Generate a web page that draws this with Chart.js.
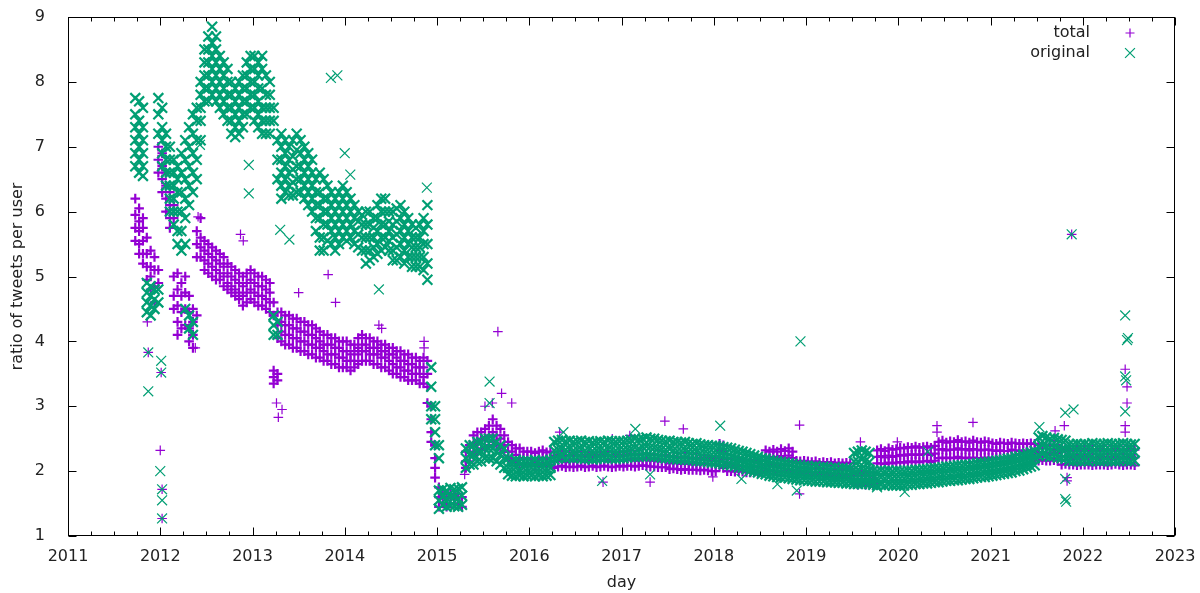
<!DOCTYPE html>
<html>
<head>
<meta charset="utf-8">
<title>ratio of tweets per user</title>
<script src="https://cdn.jsdelivr.net/npm/chart.js@4.4.1/dist/chart.umd.min.js"></script>
<style>
  html, body { margin: 0; padding: 0; background: #fff; }
  #wrap { width: 1200px; height: 593px; position: relative; }
</style>
</head>
<body>
<div id="wrap"><canvas id="ratioChart"></canvas></div>
<script>
// half-month samples: each entry lists the values seen in that half month
const STEPS_PER_YEAR = 24;
const xTickYears = [2011, 2012, 2013, 2014, 2015, 2016, 2017, 2018, 2019, 2020, 2021, 2022, 2023];
const yTickValues = [1, 2, 3, 4, 5, 6, 7, 8, 9];

// ---- total (first sample = half month 17 of 2011) ----
const total2011 = [
  [6.2,5.95,5.75,5.55],[6.05,5.85,5.7,5.5,5.35],[5.9,5.75,5.55,5.35,5.2],[5.6,5.35,5.15,4.95],
  [5.4,5.15,5.0,4.8],[5.3,5.1,4.85,4.6],[7.0,6.8,6.6,5.1,4.9]
];
const total2012 = [
  [6.9,6.7,6.5,6.3],[6.6,6.4,6.2,6.0],[6.3,6.1,5.9,5.75],[6.1,5.9,5.0,4.7,4.5],
  [5.05,4.8,4.55,4.3,4.1],[4.9,4.7,4.45,4.2],[5.0,4.75,4.5,4.25],[4.7,4.45,4.2,4.0],
  [4.5,4.3,4.1,3.9],[5.7,5.5,5.3,4.4],[5.9,5.6,5.45,5.3],[5.55,5.4,5.25,5.1],
  [5.5,5.35,5.2,5.05],[5.45,5.3,5.15,5.0],[5.4,5.25,5.1,4.95],[5.35,5.2,5.05,4.95],
  [5.3,5.15,5.0,4.85],[5.2,5.05,4.9,4.8],[5.15,5.0,4.85,4.75],[5.1,4.95,4.8,4.7],
  [5.05,4.9,4.75,4.65],[5.0,4.85,4.7,4.55],[5.05,4.9,4.75,4.6],[5.1,4.95,4.8,4.65]
];
const total2013 = [
  [5.05,4.9,4.75,4.6],[5.0,4.85,4.7,4.55],[5.0,4.85,4.7,4.55],[4.95,4.8,4.65,4.5],
  [4.9,4.75,4.6,4.45],[4.6,4.4,3.55,3.45,3.35],[4.45,4.25,4.05,3.5,3.4],[4.45,4.3,4.15,4.0],
  [4.4,4.25,4.1,3.95],[4.4,4.25,4.1,3.95],[4.35,4.2,4.05,3.9],[4.35,4.2,4.05,3.9],
  [4.3,4.15,4.0,3.85],[4.3,4.15,4.0,3.85],[4.25,4.1,3.95,3.8],[4.25,4.1,3.95,3.8],
  [4.2,4.05,3.9,3.75],[4.15,4.0,3.9,3.75],[4.1,3.95,3.85,3.7],[4.1,3.95,3.8,3.7],
  [4.05,3.95,3.8,3.65],[4.05,3.9,3.8,3.65],[4.0,3.9,3.75,3.6],[4.0,3.85,3.75,3.6]
];
const total2014 = [
  [4.0,3.85,3.7,3.6],[3.95,3.8,3.7,3.55],[3.95,3.85,3.7,3.6],[4.05,3.9,3.8,3.65],
  [4.1,3.95,3.85,3.7],[4.05,3.95,3.85,3.7],[4.05,3.9,3.8,3.7],[4.0,3.9,3.8,3.65],
  [4.0,3.9,3.8,3.65],[3.95,3.85,3.75,3.6],[3.95,3.85,3.75,3.6],[3.9,3.8,3.7,3.55],
  [3.9,3.8,3.65,3.5],[3.85,3.75,3.6,3.5],[3.85,3.7,3.6,3.45],[3.8,3.7,3.55,3.45],
  [3.8,3.65,3.55,3.4],[3.75,3.65,3.5,3.4],[3.75,3.6,3.5,3.4],[3.7,3.6,3.5,3.35],
  [3.75,3.6,3.45,3.35],[3.7,3.5,3.3,3.05],[3.0,2.8,2.6,2.45],[2.4,2.2,2.05,1.9]
];
const total2015 = [
  [1.75,1.6,1.45],[1.65,1.5],[1.6,1.45],[1.65,1.5],[1.6,1.5],[1.65,1.5],[1.6,1.45],[2.3,2.15,2.05],
  [2.4,2.3,2.15],[2.55,2.4,2.25],[2.6,2.45,2.3],[2.6,2.5,2.35],[2.65,2.5,2.35],[2.7,2.55,2.4],
  [2.8,2.6,2.45],[2.7,2.55,2.4],[2.65,2.5,2.35],[2.55,2.4,2.3],[2.45,2.3,2.2],[2.4,2.3,2.15],
  [2.35,2.25,2.15],[2.35,2.2,2.1],[2.3,2.2,2.1],[2.3,2.2,2.1]
];
const total2016 = [
  [2.3,2.2,2.1],[2.28,2.18,2.08],[2.3,2.2,2.1],[2.32,2.21,2.1],[2.29,2.19,2.09],[2.3,2.2,2.1],
  [2.24,2.15,2.05],[2.25,2.15,2.07],[2.27,2.17,2.08],[2.24,2.14,2.06],[2.25,2.16,2.07],[2.26,2.15,2.06],
  [2.24,2.15,2.07],[2.25,2.16,2.08],[2.23,2.14,2.06],[2.25,2.15,2.07],[2.26,2.16,2.08],[2.24,2.15,2.06],
  [2.25,2.16,2.07],[2.26,2.17,2.08],[2.25,2.15,2.07],[2.24,2.15,2.06],[2.26,2.16,2.07],[2.25,2.16,2.08]
];
const total2017 = [
  [2.25,2.16,2.07],[2.26,2.17,2.08],[2.27,2.17,2.08],[2.25,2.16,2.07],[2.26,2.16,2.08],[2.27,2.18,2.09],
  [2.26,2.17,2.08],[2.25,2.16,2.07],[2.26,2.16,2.07],[2.25,2.15,2.06],[2.24,2.15,2.06],[2.25,2.15,2.06],
  [2.22,2.12,2.03],[2.23,2.13,2.04],[2.22,2.12,2.03],[2.21,2.11,2.02],[2.22,2.12,2.03],[2.21,2.11,2.02],
  [2.2,2.1,2.02],[2.21,2.11,2.02],[2.2,2.1,2.01],[2.21,2.11,2.02],[2.2,2.1,2.01],[2.2,2.1,2.0]
];
const total2018 = [
  [2.2,2.1,2.0],[2.42,2.32,2.2,2.08],[2.4,2.3,2.18,2.05],[2.2,2.1,2.0],[2.18,2.08,2.0],[2.17,2.08,1.99],
  [2.18,2.08,2.0],[2.16,2.07,1.99],[2.17,2.07,1.98],[2.16,2.06,1.98],[2.17,2.07,1.99],[2.15,2.06,1.98],
  [2.16,2.06,1.97],[2.32,2.22,2.1,2.0],[2.3,2.2,2.1,2.0],[2.33,2.22,2.1,2.0],[2.3,2.2,2.08,1.98],[2.34,2.23,2.1,2.0],
  [2.31,2.2,2.09,1.99],[2.35,2.24,2.1,2.0],[2.3,2.2,2.08,1.98],[2.16,2.06,1.97],[2.15,2.05,1.96],[2.16,2.06,1.97]
];
const total2019 = [
  [2.15,2.05,1.95],[2.14,2.04,1.95],[2.15,2.05,1.96],[2.13,2.04,1.94],[2.14,2.04,1.95],[2.13,2.03,1.94],
  [2.14,2.04,1.94],[2.12,2.03,1.93],[2.13,2.03,1.94],[2.12,2.02,1.93],[2.13,2.03,1.93],[2.12,2.02,1.93],
  [1.98,1.88,1.8],[1.97,1.87,1.79],[1.98,1.88,1.8],[1.97,1.88,1.79],[1.98,1.88,1.8],[1.98,1.89,1.8],
  [2.32,2.22,2.12],[2.34,2.23,2.12],[2.31,2.21,2.11],[2.35,2.24,2.13],[2.33,2.22,2.12],[2.34,2.23,2.13]
];
const total2020 = [
  [2.36,2.25,2.14],[2.35,2.24,2.13],[2.37,2.26,2.15],[2.36,2.25,2.14],[2.38,2.26,2.15],[2.36,2.25,2.14],
  [2.37,2.26,2.15],[2.38,2.27,2.16],[2.36,2.25,2.14],[2.39,2.27,2.16],[2.45,2.33,2.2],[2.47,2.34,2.21],
  [2.44,2.32,2.2],[2.46,2.33,2.21],[2.45,2.33,2.2],[2.48,2.35,2.22],[2.45,2.33,2.2],[2.46,2.34,2.21],
  [2.44,2.32,2.2],[2.47,2.34,2.21],[2.45,2.33,2.2],[2.44,2.32,2.2],[2.46,2.33,2.21],[2.45,2.33,2.2]
];
const total2021 = [
  [2.43,2.32,2.21],[2.42,2.31,2.2],[2.44,2.32,2.21],[2.43,2.31,2.2],[2.42,2.31,2.2],[2.44,2.33,2.21],
  [2.43,2.32,2.2],[2.42,2.31,2.2],[2.43,2.32,2.21],[2.42,2.31,2.2],[2.43,2.32,2.21],[2.42,2.31,2.2],
  [2.4,2.28,2.16],[2.41,2.29,2.17],[2.39,2.28,2.16],[2.4,2.28,2.16],[2.41,2.29,2.17],[2.4,2.28,2.16],
  [2.34,2.22,2.1],[2.35,2.23,2.11],[2.33,2.22,2.1],[2.34,2.22,2.1],[2.33,2.21,2.09],[2.34,2.22,2.1]
];
const total2022 = [
  [2.33,2.22,2.1],[2.34,2.22,2.1],[2.33,2.21,2.09],[2.32,2.21,2.1],[2.34,2.22,2.1],[2.33,2.22,2.1],
  [2.32,2.21,2.09],[2.33,2.22,2.1],[2.34,2.22,2.11],[2.33,2.21,2.1],[2.32,2.21,2.09],[2.33,2.22,2.1],
  [2.34,2.22,2.1],[2.33,2.21,2.09]
];
const totalOutliers = [
  [2011.87,3.83],[2011.86,4.3],[2012.01,3.52],[2012.0,2.32],[2012.02,1.72],[2012.02,1.27],
  [2012.38,3.9],[2012.41,5.92],[2012.87,5.65],[2012.9,5.55],[2013.5,4.75],[2013.9,4.6],
  [2013.82,5.03],[2013.26,3.05],[2013.28,2.83],[2013.32,2.95],[2014.37,4.25],[2014.4,4.2],
  [2014.86,4.0],[2014.86,3.9],[2015.3,1.95],[2015.52,3.0],[2015.6,3.05],[2015.66,4.15],
  [2015.7,3.2],[2015.81,3.05],[2016.33,2.6],[2016.8,1.83],[2016.9,2.5],[2017.09,2.55],
  [2017.31,1.83],[2017.47,2.77],[2017.67,2.65],[2017.99,1.91],[2018.93,2.71],[2018.93,1.65],
  [2019.59,2.45],[2019.99,2.45],[2020.42,2.7],[2020.42,2.6],[2020.81,2.75],[2021.7,2.62],
  [2021.8,2.7],[2021.83,1.9],[2021.83,1.85],[2021.88,5.65],[2022.46,3.57],[2022.48,3.3],
  [2022.48,3.05],[2022.46,2.7],[2022.46,2.6]
];

// ---- original ----
const orig2011 = [
  [7.75,7.5,7.3,7.1,6.9,6.7],[7.7,7.4,7.2,7.0,6.8,6.6],[7.6,7.3,7.1,6.9,6.7,6.55],[4.9,4.75,4.6,4.45],
  [4.85,4.7,4.55,4.4],[4.8,4.65,4.5],[7.75,7.5,7.2,4.8,4.6]
];
const orig2012 = [
  [7.6,7.3,7.1,6.9,6.7],[7.2,7.0,6.8,6.6,6.4],[7.0,6.8,6.6,6.4,6.2,6.0],[6.8,6.6,6.4,6.2,6.0,5.8],
  [6.7,6.5,6.3,6.0,5.7,5.5],[6.9,6.6,6.3,6.0,5.7,5.4],[7.1,6.8,6.5,6.2,5.9,5.5,4.5],[7.3,7.0,6.7,6.4,6.1,4.4,4.2],
  [7.5,7.2,6.9,6.6,6.3,4.3,4.1],[7.6,7.4,7.1,6.8,6.5],[8.0,7.8,7.6,7.4,7.1],[8.5,8.3,8.1,7.9,7.7],
  [8.7,8.5,8.3,8.1,7.9,7.7],[8.85,8.6,8.4,8.2,8.0,7.8],[8.7,8.5,8.3,8.1,7.9,7.7],[8.4,8.2,8.0,7.8,7.6],
  [8.3,8.1,7.9,7.7,7.5],[8.2,8.0,7.8,7.6,7.4],[8.0,7.8,7.6,7.4,7.2],[7.9,7.7,7.5,7.3,7.15],
  [8.0,7.8,7.6,7.4,7.2],[8.1,7.9,7.7,7.5,7.3],[8.3,8.1,7.9,7.7,7.5],[8.4,8.2,8.0,7.8,7.6]
];
const orig2013 = [
  [8.4,8.2,8.0,7.8,7.6,7.4],[8.3,8.1,7.9,7.7,7.5,7.3],[8.4,8.2,7.9,7.6,7.4,7.2],[8.1,7.8,7.6,7.4,7.2],
  [8.0,7.8,7.6,7.4,7.2],[7.6,7.4,4.4,4.25,4.1],[7.1,6.8,6.5,4.3,4.1],[7.2,7.0,6.8,6.6,6.4,6.2],
  [7.1,6.9,6.7,6.5,6.3],[7.0,6.8,6.6,6.4,6.25],[7.1,6.85,6.65,6.45,6.25],[7.2,6.95,6.7,6.5,6.3],
  [7.1,6.9,6.7,6.5,6.3],[7.0,6.8,6.6,6.4,6.2],[6.9,6.7,6.5,6.3,6.1],[6.8,6.6,6.4,6.2,6.0],
  [6.5,6.3,6.1,5.9,5.7],[6.6,6.3,6.1,5.9,5.6,5.4],[6.5,6.2,6.0,5.8,5.6,5.4],[6.4,6.2,6.0,5.8,5.55],
  [6.3,6.1,5.9,5.7,5.5],[6.2,6.0,5.8,5.6,5.4],[6.3,6.1,5.9,5.7,5.5],[6.4,6.2,6.0,5.8,5.6]
];
const orig2014 = [
  [6.3,6.1,5.9,5.7,5.55],[6.2,6.0,5.8,5.6],[6.1,5.9,5.7,5.5],[6.0,5.85,5.65,5.45],
  [5.95,5.8,5.6,5.4],[6.0,5.8,5.6,5.4,5.2],[6.0,5.8,5.6,5.4,5.25],[5.9,5.75,5.6,5.45,5.3],
  [6.1,5.9,5.7,5.5,5.35],[6.2,6.0,5.8,5.6,5.4],[6.2,6.0,5.8,5.6,5.45],[6.0,5.85,5.7,5.55,5.4],
  [6.0,5.8,5.6,5.4,5.25],[6.05,5.85,5.65,5.45,5.25],[6.1,5.9,5.7,5.5,5.3],[6.0,5.8,5.6,5.4,5.2],
  [5.9,5.7,5.5,5.3],[5.8,5.6,5.45,5.3,5.15],[5.75,5.6,5.45,5.3,5.15],[5.8,5.6,5.45,5.3,5.15],
  [5.9,5.7,5.5,5.3,5.1],[6.1,5.8,5.5,5.2,4.95],[3.6,3.3,3.0,2.8],[3.0,2.8,2.6,2.4]
];
const orig2015 = [
  [2.4,2.2,1.7,1.55,1.42],[1.72,1.6,1.48],[1.7,1.58,1.45],[1.74,1.6,1.47],[1.72,1.6,1.46],[1.73,1.58,1.45],
  [1.75,1.62,1.48],[2.35,2.2,2.05],[2.4,2.25,2.1],[2.4,2.25,2.1],[2.45,2.3,2.15],[2.45,2.3,2.15],
  [2.5,2.35,2.2],[2.5,2.35,2.2],[2.5,2.35,2.2],[2.45,2.3,2.15],[2.4,2.25,2.1],[2.35,2.2,2.05],
  [2.2,2.05,1.95],[2.15,2.05,1.93],[2.17,2.05,1.92],[2.15,2.03,1.93],[2.15,2.05,1.92],[2.16,2.04,1.93]
];
const orig2016 = [
  [2.15,2.05,1.93],[2.17,2.05,1.92],[2.15,2.04,1.93],[2.16,2.05,1.92],[2.15,2.04,1.93],[2.17,2.05,1.94],
  [2.45,2.32,2.18],[2.47,2.33,2.2],[2.48,2.35,2.22],[2.46,2.33,2.2],[2.47,2.34,2.21],[2.45,2.32,2.2],
  [2.46,2.33,2.21],[2.47,2.34,2.2],[2.45,2.32,2.19],[2.46,2.33,2.2],[2.44,2.31,2.18],[2.45,2.32,2.19],
  [2.46,2.33,2.2],[2.45,2.32,2.2],[2.47,2.34,2.21],[2.46,2.33,2.2],[2.45,2.32,2.19],[2.46,2.33,2.2]
];
const orig2017 = [
  [2.46,2.33,2.2],[2.47,2.34,2.21],[2.48,2.35,2.22],[2.5,2.36,2.22],[2.49,2.35,2.22],[2.5,2.37,2.23],
  [2.52,2.38,2.24],[2.5,2.37,2.23],[2.5,2.36,2.22],[2.48,2.35,2.22],[2.47,2.34,2.21],[2.46,2.33,2.2],
  [2.47,2.34,2.2],[2.45,2.32,2.19],[2.45,2.31,2.18],[2.44,2.31,2.18],[2.45,2.32,2.18],[2.43,2.3,2.17],
  [2.42,2.3,2.17],[2.43,2.3,2.16],[2.41,2.28,2.15],[2.4,2.28,2.15],[2.4,2.27,2.14],[2.39,2.26,2.13]
];
const orig2018 = [
  [2.39,2.26,2.13],[2.38,2.25,2.12],[2.37,2.24,2.11],[2.36,2.23,2.1],[2.35,2.22,2.09],[2.33,2.2,2.08],
  [2.31,2.18,2.06],[2.3,2.17,2.05],[2.28,2.15,2.03],[2.26,2.13,2.01],[2.24,2.11,1.99],[2.22,2.1,1.98],
  [2.2,2.08,1.96],[2.19,2.07,1.95],[2.17,2.05,1.93],[2.16,2.04,1.92],[2.15,2.03,1.91],[2.14,2.02,1.9],
  [2.13,2.01,1.9],[2.12,2.0,1.89],[2.11,1.99,1.88],[2.1,1.98,1.87],[2.09,1.97,1.86],[2.08,1.97,1.86]
];
const orig2019 = [
  [2.08,1.96,1.85],[2.07,1.96,1.85],[2.08,1.95,1.84],[2.06,1.95,1.84],[2.07,1.95,1.84],[2.06,1.94,1.83],
  [2.05,1.94,1.83],[2.06,1.93,1.83],[2.04,1.93,1.82],[2.05,1.93,1.82],[2.04,1.92,1.81],[2.03,1.92,1.81],
  [2.28,2.15,2.02,1.9,1.8],[2.3,2.15,2.02,1.9,1.8],[2.32,2.18,2.04,1.9,1.8],[2.3,2.16,2.03,1.91,1.81],
  [2.28,2.14,2.02,1.9,1.8],[2.01,1.9,1.79],[2.0,1.89,1.78],[2.01,1.9,1.79],[2.0,1.89,1.78],[2.01,1.9,1.79],
  [2.0,1.89,1.78],[2.01,1.89,1.78]
];
const orig2020 = [
  [2.0,1.89,1.78],[2.0,1.89,1.78],[2.01,1.9,1.79],[2.01,1.9,1.79],[2.02,1.91,1.8],[2.02,1.91,1.8],
  [2.03,1.92,1.81],[2.03,1.92,1.81],[2.04,1.93,1.82],[2.05,1.94,1.83],[2.05,1.94,1.83],[2.06,1.95,1.84],
  [2.07,1.96,1.85],[2.07,1.96,1.85],[2.08,1.97,1.86],[2.09,1.97,1.86],[2.09,1.98,1.87],[2.1,1.99,1.88],
  [2.1,1.99,1.88],[2.11,2.0,1.89],[2.12,2.01,1.9],[2.13,2.02,1.91],[2.13,2.02,1.91],[2.14,2.03,1.92]
];
const orig2021 = [
  [2.15,2.04,1.93],[2.16,2.05,1.94],[2.17,2.06,1.95],[2.18,2.07,1.96],[2.19,2.08,1.97],[2.2,2.09,1.98],
  [2.22,2.11,2.0],[2.23,2.12,2.01],[2.25,2.14,2.03],[2.27,2.16,2.05],[2.29,2.18,2.07],[2.31,2.2,2.09],
  [2.52,2.38,2.24],[2.54,2.4,2.26],[2.52,2.38,2.24],[2.5,2.36,2.22],[2.51,2.37,2.23],[2.49,2.35,2.21],
  [2.48,2.34,2.2],[2.47,2.33,2.19],[2.42,2.29,2.16],[2.41,2.28,2.15],[2.42,2.29,2.16],[2.41,2.28,2.15]
];
const orig2022 = [
  [2.42,2.29,2.16],[2.41,2.28,2.15],[2.43,2.3,2.17],[2.42,2.29,2.16],[2.41,2.28,2.15],[2.42,2.29,2.16],
  [2.43,2.3,2.16],[2.42,2.29,2.15],[2.41,2.28,2.15],[2.42,2.29,2.16],[2.43,2.3,2.17],[2.42,2.29,2.16],
  [2.41,2.28,2.15],[2.42,2.29,2.16]
];
const origOutliers = [
  [2011.87,3.23],[2012.01,3.7],[2012.0,2.0],[2012.02,1.55],[2012.02,1.27],[2012.01,3.52],
  [2011.87,3.83],[2012.02,1.72],[2012.43,7.03],[2012.96,6.72],[2012.96,6.28],[2013.3,5.72],
  [2013.4,5.57],[2013.85,8.06],[2013.92,8.1],[2014.0,6.9],[2014.06,6.57],[2014.37,4.8],
  [2014.89,6.37],[2015.57,3.38],[2015.57,3.05],[2016.37,2.6],[2016.79,1.85],[2017.15,2.65],
  [2017.31,1.95],[2018.07,2.7],[2018.3,1.88],[2018.69,1.8],[2018.9,1.7],[2018.94,4.0],
  [2019.77,1.75],[2020.07,1.68],[2020.32,2.3],[2021.53,2.68],[2021.81,2.9],[2021.9,2.95],
  [2021.81,1.57],[2021.82,1.53],[2021.81,1.88],[2021.88,5.65],[2022.46,4.4],[2022.48,4.02],
  [2022.49,4.05],[2022.46,3.46],[2022.47,3.4],[2022.46,2.92]
];

// [year, first half-month index, samples]
const totalYears = [
  [2011, 17, total2011], [2012, 0, total2012], [2013, 0, total2013], [2014, 0, total2014],
  [2015, 0, total2015], [2016, 0, total2016], [2017, 0, total2017], [2018, 0, total2018],
  [2019, 0, total2019], [2020, 0, total2020], [2021, 0, total2021], [2022, 0, total2022]
];
const origYears = [
  [2011, 17, orig2011], [2012, 0, orig2012], [2013, 0, orig2013], [2014, 0, orig2014],
  [2015, 0, orig2015], [2016, 0, orig2016], [2017, 0, orig2017], [2018, 0, orig2018],
  [2019, 0, orig2019], [2020, 0, orig2020], [2021, 0, orig2021], [2022, 0, orig2022]
];

const PURPLE = "#9400d3";
const GREEN = "#009e73";
const TEXT = "#222222";
const FONT = "'DejaVu Sans', sans-serif";

function buildPoints(years, outliers) {
  const pts = [];
  years.forEach(([year, first, samples]) => {
    samples.forEach((vals, i) => {
      const x = year + (first + i + 0.5) / STEPS_PER_YEAR;
      vals.forEach((v) => pts.push({ x, y: v }));
    });
  });
  outliers.forEach(([x, y]) => pts.push({ x, y, lone: true }));
  return pts;
}

// dense clouds get a heavier stroke, isolated days a thin one
const markerWidth = (dense, lone) => (ctx) => (ctx.raw && ctx.raw.lone ? lone : dense);

function drawMarker(ctx, style, x, y, r) {
  ctx.beginPath();
  if (style === "cross") {
    ctx.moveTo(x - r, y); ctx.lineTo(x + r, y);
    ctx.moveTo(x, y - r); ctx.lineTo(x, y + r);
  } else {
    const d = r * Math.SQRT1_2;
    ctx.moveTo(x - d, y - d); ctx.lineTo(x + d, y + d);
    ctx.moveTo(x - d, y + d); ctx.lineTo(x + d, y - d);
  }
  ctx.stroke();
}

// gnuplot style frame, inward ticks and key
const framePlugin = {
  id: "frame",
  afterDraw(chart) {
    const { ctx, chartArea: a, scales } = chart;
    const L = Math.round(a.left) + 0.5, R = Math.round(a.right) - 0.5;
    const T = Math.round(a.top) + 0.5, B = Math.round(a.bottom) - 0.5;
    ctx.save();
    ctx.strokeStyle = "#000";
    ctx.lineWidth = 1;
    ctx.strokeRect(L, T, R - L, B - T);
    ctx.beginPath();
    for (let q = 0; q <= (xTickYears.length - 1) * 4; q++) {
      const yr = xTickYears[0] + q / 4;
      const px = Math.round(scales.x.getPixelForValue(yr)) + 0.5;
      const len = q % 4 === 0 ? 8 : 4;
      ctx.moveTo(px, B); ctx.lineTo(px, B - len);
      ctx.moveTo(px, T); ctx.lineTo(px, T + len);
    }
    yTickValues.forEach((v) => {
      const py = Math.round(scales.y.getPixelForValue(v)) + 0.5;
      ctx.moveTo(L, py); ctx.lineTo(L + 8, py);
      ctx.moveTo(R, py); ctx.lineTo(R - 8, py);
    });
    ctx.stroke();

    // key
    ctx.font = "16px " + FONT;
    ctx.fillStyle = TEXT;
    ctx.textAlign = "right";
    ctx.textBaseline = "middle";
    ctx.lineWidth = 1.2;
    const keys = [["total", PURPLE, "cross", 4.5], ["original", GREEN, "crossRot", 7]];
    keys.forEach(([label, color, style, r], k) => {
      const ky = 33 + k * 20;
      ctx.fillText(label, 1090, ky);
      ctx.strokeStyle = color;
      drawMarker(ctx, style, 1130, ky, r);
    });
    ctx.restore();
  },
};

new Chart(document.getElementById("ratioChart"), {
  type: "scatter",
  data: {
    datasets: [
      {
        label: "original",
        data: buildPoints(origYears, origOutliers),
        pointStyle: "crossRot",
        pointRadius: 7,
        borderColor: GREEN,
        backgroundColor: GREEN,
        borderWidth: markerWidth(2.2, 1.2),
        order: 0,
      },
      {
        label: "total",
        data: buildPoints(totalYears, totalOutliers),
        pointStyle: "cross",
        pointRadius: 4.8,
        borderColor: PURPLE,
        backgroundColor: PURPLE,
        borderWidth: markerWidth(2.2, 1.2),
        order: 1,
      },
    ],
  },
  options: {
    responsive: true,
    maintainAspectRatio: false,
    animation: false,
    events: [],
    layout: { padding: { top: 17, right: 25, left: 0, bottom: 0 } },
    plugins: { legend: { display: false }, tooltip: { enabled: false } },
    scales: {
      x: {
        type: "linear",
        min: 2011,
        max: 2023,
        grid: { display: false },
        border: { display: false },
        ticks: {
          stepSize: 1,
          autoSkip: false,
          maxRotation: 0,
          padding: 3,
          color: TEXT,
          font: { family: FONT, size: 16 },
          callback: (v) => String(v),
        },
        title: {
          display: true,
          text: "day",
          color: TEXT,
          font: { family: FONT, size: 16 },
          padding: { top: 0, bottom: 1 },
        },
        afterFit: (scale) => { scale.height = 57; },
      },
      y: {
        min: 1,
        max: 9,
        grid: { display: false },
        border: { display: false },
        ticks: {
          stepSize: 1,
          padding: 15,
          color: TEXT,
          font: { family: FONT, size: 16 },
        },
        title: {
          display: true,
          text: "ratio of tweets per user",
          color: TEXT,
          font: { family: FONT, size: 16 },
          padding: { top: 8, bottom: 0 },
        },
        afterFit: (scale) => {
          scale.width = 68;
          scale.paddingTop = 0;
          scale.paddingBottom = 0;
        },
      },
    },
  },
  plugins: [framePlugin],
});
</script>
</body>
</html>
